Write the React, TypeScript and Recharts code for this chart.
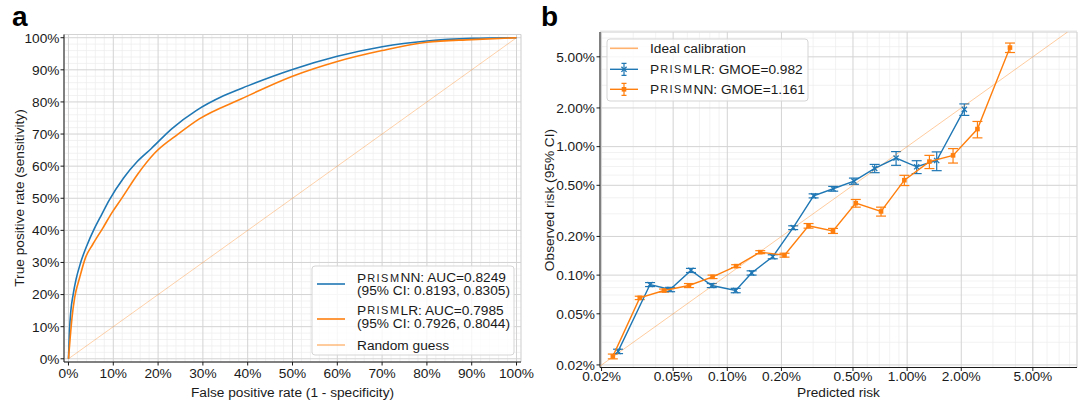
import React from 'react'
import {
  ComposedChart,
  Line,
  Scatter,
  XAxis,
  YAxis,
  CartesianGrid,
  ErrorBar,
} from 'recharts'

document.body.style.margin = '0'

const FONT = '"Liberation Sans", Arial, Helvetica, sans-serif'
const BLUE = '#1f77b4'
const ORANGE = '#ff7f0e'
const INK = '#1a1a1a'
const GRID_MAJOR = '#d3d3d3'
const GRID_MINOR = '#ececec'
const FS = 13.7

// ---- panel a: ROC curves (values in percent) ----
const rocTicks = [0, 10, 20, 30, 40, 50, 60, 70, 80, 90, 100]
const rocMinorTicks = [
  2, 4, 6, 8, 12, 14, 16, 18, 22, 24, 26, 28, 32, 34, 36, 38, 42, 44, 46, 48,
  52, 54, 56, 58, 62, 64, 66, 68, 72, 74, 76, 78, 82, 84, 86, 88, 92, 94, 96, 98,
]

const nnFpr = [0, 0.23, 0.54, 1.0, 1.7, 2.7, 4.2, 5.8, 7.4, 9.1, 12.3, 15.4, 18.5, 23.1, 28.5, 34.6, 40, 50, 60, 70, 80, 90, 100]
const nnTpr = [0, 8.9, 15.1, 19.7, 24.8, 29.9, 35.6, 40.6, 44.9, 49.4, 56.3, 61.5, 65.5, 71.7, 77.3, 81.9, 85, 90.1, 94.2, 97.2, 99.0, 99.8, 100]

const lrFpr = [0, 0.4, 0.8, 1.4, 2.5, 3.8, 5.4, 7.7, 9.6, 11.8, 15.4, 19.2, 24.6, 29.2, 38.5, 50, 60, 70, 80, 90, 100]
const lrTpr = [0, 6.9, 13, 19.2, 25.3, 31.5, 35.6, 40.8, 45.3, 49.8, 57.4, 64, 70.1, 74.7, 80.9, 88, 92.6, 96, 98.6, 99.4, 100]

const guessFpr = [0, 100]
const guessTpr = [0, 100]

// ---- panel b: calibration (values in percent) ----
const riskTicks = [0.02, 0.05, 0.1, 0.2, 0.5, 1, 2, 5]
const riskMinorTicks = [0.03, 0.04, 0.06, 0.07, 0.08, 0.09, 0.3, 0.4, 0.6, 0.7, 0.8, 0.9, 3, 4, 6, 7, 8]
const riskXDomain = [0.0196, 8.8]
const riskYDomain = [0.0191, 7.8]
const idealRisk = [0.0196, 7.8]

const lrPred = [0.0247, 0.0372, 0.0481, 0.0628, 0.082, 0.1114, 0.1365, 0.179, 0.2325, 0.302, 0.388, 0.506, 0.66, 0.868, 1.13, 1.46, 2.08]
const lrObs = [0.0255, 0.0845, 0.0773, 0.1088, 0.083, 0.0759, 0.104, 0.139, 0.234, 0.414, 0.47, 0.539, 0.677, 0.815, 0.697, 0.78, 1.95]
const lrErr = [0.001, 0.003, 0.003, 0.004, 0.003, 0.003, 0.004, 0.005, 0.008, 0.015, 0.02, 0.03, 0.05, 0.1, 0.08, 0.13, 0.2]

const nnPred = [0.0231, 0.0326, 0.0445, 0.0612, 0.0828, 0.112, 0.1525, 0.208, 0.283, 0.387, 0.518, 0.716, 0.965, 1.33, 1.8, 2.46, 3.73]
const nnObs = [0.0233, 0.0665, 0.0759, 0.083, 0.097, 0.1175, 0.151, 0.143, 0.242, 0.221, 0.363, 0.313, 0.548, 0.765, 0.855, 1.37, 5.9]
const nnErr = [0.001, 0.002, 0.002, 0.003, 0.003, 0.003, 0.004, 0.005, 0.01, 0.01, 0.025, 0.025, 0.05, 0.09, 0.11, 0.2, 0.5]

const nnRoc = nnFpr.map((f, i) => ({ fpr: f, tpr: nnTpr[i] }))
const lrRoc = lrFpr.map((f, i) => ({ fpr: f, tpr: lrTpr[i] }))
const guessRoc = guessFpr.map((f, i) => ({ fpr: f, tpr: guessTpr[i] }))

const lrCal = lrPred.map((x, i) => ({ x, y: lrObs[i], err: lrErr[i] }))
const nnCal = nnPred.map((x, i) => ({ x, y: nnObs[i], err: nnErr[i] }))
const idealCal = idealRisk.map((v) => ({ x: v, y: v }))

const tickStyle = { fontSize: FS, fill: INK }
const blank = () => ''

const CrossDot = (props: any) => {
  const { cx, cy } = props
  const r = 2.6
  return (
    <path
      d={`M${cx - r},${cy - r}L${cx + r},${cy + r}M${cx - r},${cy + r}L${cx + r},${cy - r}`}
      stroke={BLUE}
      strokeWidth={1.3}
    />
  )
}

const SquareDot = (props: any) => {
  const { cx, cy } = props
  return <rect x={cx - 2.3} y={cy - 2.3} width={4.6} height={4.6} fill={ORANGE} />
}

const NoDot = () => <g />

function RocPanel() {
  return (
    <ComposedChart width={540} height={404} margin={{ top: 34.5, right: 19, bottom: 12, left: 14 }}>
      <XAxis
        xAxisId="minor"
        type="number"
        dataKey="fpr"
        domain={[-1, 101]}
        allowDataOverflow
        ticks={rocMinorTicks}
        interval={0}
        height={0}
        axisLine={false}
        tickLine={{ stroke: INK, strokeWidth: 0.7 }}
        tickSize={2}
        tickFormatter={blank}
      />
      <XAxis
        type="number"
        dataKey="fpr"
        domain={[-1, 101]}
        allowDataOverflow
        ticks={rocTicks}
        interval={0}
        height={30}
        axisLine={{ stroke: INK, strokeWidth: 1 }}
        tickLine={{ stroke: INK, strokeWidth: 1 }}
        tickSize={3.5}
        tickMargin={2.5}
        tick={tickStyle}
        tickFormatter={(v) => `${v}%`}
      />
      <YAxis
        yAxisId="minor"
        type="number"
        domain={[-1, 101]}
        allowDataOverflow
        ticks={rocMinorTicks}
        interval={0}
        width={0}
        axisLine={false}
        tickLine={{ stroke: INK, strokeWidth: 0.7 }}
        tickSize={2}
        tickFormatter={blank}
      />
      <YAxis
        type="number"
        domain={[-1, 101]}
        allowDataOverflow
        ticks={rocTicks}
        interval={0}
        width={50}
        axisLine={{ stroke: INK, strokeWidth: 1 }}
        tickLine={{ stroke: INK, strokeWidth: 1 }}
        tickSize={3.5}
        tickMargin={1}
        tick={tickStyle}
        tickFormatter={(v) => `${v}%`}
      />
      <CartesianGrid xAxisId="minor" yAxisId="minor" stroke={GRID_MINOR} strokeWidth={0.7} />
      <CartesianGrid stroke={GRID_MAJOR} strokeWidth={1} />
      <Line
        data={guessRoc}
        dataKey="tpr"
        type="linear"
        stroke={ORANGE}
        strokeOpacity={0.4}
        strokeWidth={0.9}
        dot={false}
        isAnimationActive={false}
      />
      <Line
        data={nnRoc}
        dataKey="tpr"
        type="monotone"
        stroke={BLUE}
        strokeWidth={1.6}
        dot={false}
        isAnimationActive={false}
      />
      <Line
        data={lrRoc}
        dataKey="tpr"
        type="monotone"
        stroke={ORANGE}
        strokeWidth={1.6}
        dot={false}
        isAnimationActive={false}
      />
    </ComposedChart>
  )
}

function CalibrationPanel() {
  return (
    <ComposedChart width={540} height={404} margin={{ top: 32, right: 3, bottom: 6.5, left: 10 }}>
      <XAxis
        xAxisId="minor"
        type="number"
        dataKey="x"
        scale="log"
        domain={riskXDomain}
        allowDataOverflow
        ticks={riskMinorTicks}
        interval={0}
        height={0}
        axisLine={false}
        tickLine={{ stroke: INK, strokeWidth: 0.7 }}
        tickSize={2}
        tickFormatter={blank}
      />
      <XAxis
        type="number"
        dataKey="x"
        scale="log"
        domain={riskXDomain}
        allowDataOverflow
        ticks={riskTicks}
        interval={0}
        height={30}
        axisLine={{ stroke: INK, strokeWidth: 1 }}
        tickLine={{ stroke: INK, strokeWidth: 1 }}
        tickSize={3.5}
        tickMargin={0.5}
        tick={tickStyle}
        tickFormatter={(v) => `${Number(v).toFixed(2)}%`}
      />
      <YAxis
        yAxisId="minor"
        type="number"
        dataKey="y"
        scale="log"
        domain={riskYDomain}
        allowDataOverflow
        ticks={riskMinorTicks}
        interval={0}
        width={0}
        axisLine={false}
        tickLine={{ stroke: INK, strokeWidth: 0.7 }}
        tickSize={2}
        tickFormatter={blank}
      />
      <YAxis
        type="number"
        dataKey="y"
        scale="log"
        domain={riskYDomain}
        allowDataOverflow
        ticks={riskTicks}
        interval={0}
        width={50}
        axisLine={{ stroke: INK, strokeWidth: 1 }}
        tickLine={{ stroke: INK, strokeWidth: 1 }}
        tickSize={3.5}
        tickMargin={1.5}
        tick={tickStyle}
        tickFormatter={(v) => `${Number(v).toFixed(2)}%`}
      />
      <CartesianGrid xAxisId="minor" yAxisId="minor" stroke={GRID_MINOR} strokeWidth={0.7} />
      <CartesianGrid stroke={GRID_MAJOR} strokeWidth={1} />
      <Scatter
        data={idealCal}
        shape={NoDot}
        line={{ stroke: ORANGE, strokeOpacity: 0.4, strokeWidth: 1 }}
        isAnimationActive={false}
      />
      <Scatter
        data={lrCal}
        shape={CrossDot}
        line={{ stroke: BLUE, strokeWidth: 1.4 }}
        isAnimationActive={false}
      >
        <ErrorBar dataKey="err" direction="y" width={5} stroke={BLUE} strokeWidth={1.2} />
      </Scatter>
      <Scatter
        data={nnCal}
        shape={SquareDot}
        line={{ stroke: ORANGE, strokeWidth: 1.4 }}
        isAnimationActive={false}
      >
        <ErrorBar dataKey="err" direction="y" width={5} stroke={ORANGE} strokeWidth={1.2} />
      </Scatter>
    </ComposedChart>
  )
}

// "Prism" set in small caps with the wide spacing of the original
const Prism = () => (
  <>
    <tspan>P</tspan>
    <tspan dx={1} fontSize={FS * 0.8} letterSpacing={1.5}>RISM</tspan>
  </>
)

function Overlay() {
  return (
    <svg
      width={1080}
      height={404}
      style={{ position: 'absolute', left: 0, top: 0, pointerEvents: 'none' }}
      fontFamily={FONT}
    >
      {/* panel letters */}
      <text x={12} y={26} fontSize={28} fontWeight="bold" fill="#000">a</text>
      <text x={541} y={26} fontSize={28} fontWeight="bold" fill="#000">b</text>

      {/* axis titles */}
      <text x={292.5} y={392} fontSize={FS} fill={INK} textAnchor="middle" dominantBaseline="central">
        False positive rate (1 - specificity)
      </text>
      <text
        x={19}
        y={198}
        fontSize={FS}
        fill={INK}
        textAnchor="middle"
        dominantBaseline="central"
        transform="rotate(-90 19 198)"
      >
        True positive rate (sensitivity)
      </text>
      <text x={838.5} y={392} fontSize={FS} fill={INK} textAnchor="middle" dominantBaseline="central">
        Predicted risk
      </text>
      <text
        x={549}
        y={200}
        fontSize={FS}
        fill={INK}
        textAnchor="middle"
        dominantBaseline="central"
        transform="rotate(-90 549 200)"
      >
        Observed risk (95% CI)
      </text>

      {/* legend a */}
      <rect x={312} y={266} width={202} height={89} rx={3} fill="#fff" fillOpacity={0.8} stroke="#d5d5d5" />
      <line x1={317} x2={345} y1={284} y2={284} stroke={BLUE} strokeWidth={1.6} />
      <text x={357} y={277.5} fontSize={FS} fill={INK} dominantBaseline="central">
        <Prism />NN: AUC=0.8249
      </text>
      <text x={357} y={290.8} fontSize={FS} fill={INK} dominantBaseline="central">
        (95% CI: 0.8193, 0.8305)
      </text>
      <line x1={317} x2={345} y1={319} y2={319} stroke={ORANGE} strokeWidth={1.6} />
      <text x={357} y={310} fontSize={FS} fill={INK} dominantBaseline="central">
        <Prism />LR: AUC=0.7985
      </text>
      <text x={357} y={323} fontSize={FS} fill={INK} dominantBaseline="central">
        (95% CI: 0.7926, 0.8044)
      </text>
      <line x1={317} x2={345} y1={345} y2={345} stroke={ORANGE} strokeOpacity={0.8} strokeWidth={1} />
      <text x={357} y={345} fontSize={FS} fill={INK} dominantBaseline="central">
        Random guess
      </text>

      {/* legend b */}
      <rect x={607} y={39} width={201} height={62} rx={3} fill="#fff" fillOpacity={0.8} stroke="#d5d5d5" />
      <line x1={610} x2={638} y1={48.3} y2={48.3} stroke={ORANGE} strokeOpacity={0.6} strokeWidth={1.6} />
      <text x={650} y={48.3} fontSize={FS} fill={INK} dominantBaseline="central">
        Ideal calibration
      </text>
      <line x1={610} x2={638} y1={69.3} y2={69.3} stroke={BLUE} strokeWidth={1.4} />
      <path d="M624,63.3V75.3M621.5,63.3H626.5M621.5,75.3H626.5" stroke={BLUE} strokeWidth={1.2} fill="none" />
      <path d="M621.4,66.7L626.6,71.9M621.4,71.9L626.6,66.7" stroke={BLUE} strokeWidth={1.3} />
      <text x={650} y={69.3} fontSize={FS} fill={INK} dominantBaseline="central">
        <Prism />LR: GMOE=0.982
      </text>
      <line x1={610} x2={638} y1={89.3} y2={89.3} stroke={ORANGE} strokeWidth={1.4} />
      <path d="M624,83.3V95.3M621.5,83.3H626.5M621.5,95.3H626.5" stroke={ORANGE} strokeWidth={1.2} fill="none" />
      <rect x={621.7} y={87} width={4.6} height={4.6} fill={ORANGE} />
      <text x={650} y={89.3} fontSize={FS} fill={INK} dominantBaseline="central">
        <Prism />NN: GMOE=1.161
      </text>
    </svg>
  )
}

export default function App() {
  return (
    <div style={{ position: 'relative', width: 1080, height: 404, background: '#fff', fontFamily: FONT }}>
      <div style={{ position: 'absolute', left: 0, top: 0 }}>
        <RocPanel />
      </div>
      <div style={{ position: 'absolute', left: 540, top: 0 }}>
        <CalibrationPanel />
      </div>
      <Overlay />
    </div>
  )
}
